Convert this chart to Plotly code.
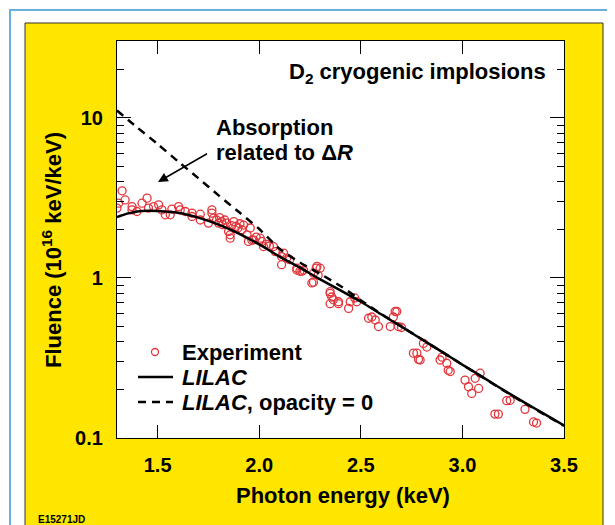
import plotly.graph_objects as go

# ---------------- data ----------------
exp_energy = [1.300, 1.308, 1.325, 1.340, 1.374, 1.374, 1.398, 1.423, 1.448, 1.455,
              1.480, 1.505, 1.521, 1.538, 1.562, 1.570, 1.603, 1.611, 1.636, 1.669,
              1.669, 1.710, 1.710, 1.750, 1.767, 1.767, 1.775, 1.790, 1.800, 1.805,
              1.815, 1.820, 1.830, 1.840, 1.849, 1.857, 1.857, 1.865, 1.875, 1.885,
              1.895, 1.905, 1.915, 1.923, 1.940, 1.947, 1.956, 1.964, 1.972, 1.985,
              2.005, 2.013, 2.021, 2.035, 2.050, 2.070, 2.079, 2.110, 2.110, 2.120,
              2.135, 2.150, 2.185, 2.185, 2.200, 2.210, 2.218, 2.259, 2.267, 2.267,
              2.280, 2.284, 2.290, 2.300, 2.349, 2.349, 2.357, 2.349, 2.365, 2.390,
              2.390, 2.440, 2.448, 2.470, 2.480, 2.538, 2.554, 2.571, 2.587, 2.645,
              2.660, 2.669, 2.677, 2.685, 2.700, 2.759, 2.776, 2.784, 2.792, 2.808,
              2.825, 2.890, 2.900, 2.923, 2.930, 2.940, 3.013, 3.030, 3.046, 3.063,
              3.080, 3.087, 3.160, 3.177, 3.218, 3.235, 3.308, 3.350, 3.365]
exp_fluence = [2.73, 2.93, 3.50, 3.07, 2.79, 2.66, 2.60, 2.93, 3.15, 2.73,
               2.79, 2.86, 2.66, 2.48, 2.48, 2.69, 2.79, 2.66, 2.60, 2.54,
               2.42, 2.50, 2.30, 2.20, 2.66, 2.54, 2.36, 2.30, 2.20, 2.38,
               2.25, 2.15, 2.30, 2.20, 1.95, 1.86, 1.77, 2.12, 2.25, 2.10,
               2.05, 2.18, 2.00, 2.14, 1.86, 1.69, 2.05, 1.72, 1.73, 1.80,
               1.77, 1.69, 1.57, 1.62, 1.58, 1.57, 1.46, 1.36, 1.21, 1.43,
               1.33, 1.30, 1.15, 1.12, 1.10, 1.10, 1.12, 0.93, 1.07, 0.94,
               1.15, 1.18, 1.04, 1.15, 0.80, 0.82, 0.76, 0.69, 0.73, 0.69,
               0.71, 0.645, 0.71, 0.75, 0.71, 0.56, 0.57, 0.546, 0.497, 0.497,
               0.57, 0.617, 0.617, 0.497, 0.49, 0.339, 0.339, 0.31, 0.307, 0.39,
               0.37, 0.307, 0.32, 0.293, 0.265, 0.26, 0.23, 0.209, 0.19, 0.236,
               0.204, 0.254, 0.141, 0.141, 0.171, 0.172, 0.151, 0.126, 0.124]

lilac_energy = [1.30, 1.35, 1.40, 1.45, 1.50, 1.60, 1.70, 1.80, 1.90, 2.00, 2.10, 2.20,
                2.30, 2.40, 2.50, 2.60, 2.70, 2.80, 2.90, 3.00, 3.10, 3.20, 3.30, 3.40, 3.50]
lilac_fluence = [2.40, 2.52, 2.60, 2.63, 2.62, 2.55, 2.38, 2.15, 1.89, 1.62, 1.36, 1.16,
                 0.98, 0.835, 0.71, 0.593, 0.496, 0.414, 0.345, 0.287, 0.240, 0.200, 0.168, 0.142, 0.120]

opac0_energy = [1.30, 1.40, 1.50, 1.60, 1.70, 1.80, 1.90, 2.00, 2.10, 2.20, 2.30, 2.40,
                2.50, 2.60, 2.70, 2.80, 2.90, 3.00, 3.10, 3.20, 3.30, 3.40, 3.50]
opac0_fluence = [11.1, 8.7, 6.85, 5.35, 4.2, 3.28, 2.58, 2.02, 1.52, 1.25, 1.06, 0.89,
                 0.725, 0.596, 0.497, 0.414, 0.345, 0.287, 0.239, 0.199, 0.167, 0.141, 0.119]

x_tickvals = [1.5, 2.0, 2.5, 3.0, 3.5]
x_ticktext = ["1.5", "2.0", "2.5", "3.0", "3.5"]
y_tickvals = [0.1, 1, 10]
y_ticktext = ["0.1", "1", "10"]
y_minor = [0.2, 0.3, 0.4, 0.5, 0.6, 0.7, 0.8, 0.9, 2, 3, 4, 5, 6, 7, 8, 9, 20]

legend_labels = ["Experiment", "<i>LILAC</i>", "<i>LILAC</i>, opacity = 0"]

# ---------------- figure ----------------
FONT = "Liberation Sans"
RED = "#E2363C"
OFF = 8  # page body margin

W, H = 615, 525
# screen-pixel positions of the plot frame
SX0, SX1, SY0, SY1 = 117, 564, 41, 438
L = SX0 - OFF
T = SY0 - OFF
R = W - (SX1 - OFF)
B = H - (SY1 - OFF)
pw, ph = W - L - R, H - T - B


def px(xs):
    return (xs - OFF - L) / pw


def py(ys):
    return (H - B - (ys - OFF)) / ph


fig = go.Figure()
fig.add_trace(go.Scatter(
    x=exp_energy, y=exp_fluence, mode="markers", name=legend_labels[0],
    marker=dict(symbol="circle-open", size=8, color=RED, line=dict(width=1.3, color=RED)),
))
fig.add_trace(go.Scatter(
    x=lilac_energy, y=lilac_fluence, mode="lines", name=legend_labels[1],
    line=dict(color="black", width=2.5, shape="spline", smoothing=0.7),
))
fig.add_trace(go.Scatter(
    x=opac0_energy, y=opac0_fluence, mode="lines", name=legend_labels[2],
    line=dict(color="black", width=2.5, dash="8px,6px", shape="spline", smoothing=0.7),
))

axis_common = dict(
    showline=True, linecolor="black", linewidth=1.2, mirror="allticks",
    ticks="inside", tickcolor="black", tickwidth=1.2,
    showgrid=False, zeroline=False,
    tickfont=dict(family=FONT, size=20, color="black", weight="bold"),
)

fig.update_xaxes(
    range=[1.3, 3.5], tickmode="array", tickvals=x_tickvals, ticktext=x_ticktext,
    ticklen=13, ticklabelstandoff=9, **axis_common,
)
fig.update_yaxes(
    type="log", range=[-1, 1.48], tickmode="array", tickvals=y_tickvals, ticktext=y_ticktext,
    ticklen=14, ticklabelstandoff=9,
    minor=dict(tickvals=y_minor, ticklen=7, ticks="inside", tickcolor="black", tickwidth=1.2),
    **axis_common,
)

shapes = [
    # light blue page frame
    dict(type="rect", xref="paper", yref="paper", x0=px(10), x1=px(720), y0=py(10), y1=py(720),
         line=dict(color="#6AAEDC", width=2), fillcolor="rgba(0,0,0,0)", layer="below"),
    # yellow panel
    dict(type="rect", xref="paper", yref="paper", x0=px(25), x1=px(603), y0=py(23), y1=py(560),
         line=dict(color="#333333", width=1), fillcolor="#FFE600", layer="below"),
    # white plot area
    dict(type="rect", xref="paper", yref="paper", x0=0, x1=1, y0=0, y1=1,
         line=dict(width=0), fillcolor="white", layer="below"),
    # legend symbols
    dict(type="circle", xref="paper", yref="paper",
         x0=px(151.5), x1=px(158.5), y0=py(348.5), y1=py(355.5),
         line=dict(color=RED, width=1.3), fillcolor="rgba(0,0,0,0)"),
    dict(type="line", xref="paper", yref="paper", x0=px(138), x1=px(173), y0=py(377), y1=py(377),
         line=dict(color="black", width=2.5)),
    dict(type="line", xref="paper", yref="paper", x0=px(138), x1=px(173), y0=py(402), y1=py(402),
         line=dict(color="black", width=2.5, dash="8px,6px")),
]

bold = lambda s: dict(family=FONT, size=s, color="black", weight="bold")
TS = 22

annotations = [
    dict(text="D<sub>2</sub> cryogenic implosions", xref="paper", yref="paper",
         x=px(548), y=py(73), xanchor="right", yanchor="middle", showarrow=False, font=bold(TS)),
    dict(text="Absorption", xref="paper", yref="paper",
         x=px(214), y=py(127), xanchor="left", yanchor="middle", showarrow=False, font=bold(TS)),
    dict(text="related to Δ<i>R</i>", xref="paper", yref="paper",
         x=px(214), y=py(152), xanchor="left", yanchor="middle", showarrow=False, font=bold(TS)),
    dict(text=" ", xref="paper", yref="paper", x=px(158), y=py(182),
         ax=52, ay=-30, axref="pixel", ayref="pixel", showarrow=True,
         arrowhead=2, arrowsize=1.3, arrowwidth=1.5, arrowcolor="black", standoff=0),
    dict(text="Photon energy (keV)", xref="paper", yref="paper",
         x=px(343), y=py(496), xanchor="center", yanchor="middle", showarrow=False, font=bold(TS)),
    dict(text="Fluence (10<sup>16</sup> keV/keV)", xref="paper", yref="paper",
         x=px(52), y=py(250), xanchor="center", yanchor="middle", textangle=-90,
         showarrow=False, font=bold(TS)),
    dict(text="E15271JD", xref="paper", yref="paper",
         x=px(36), y=py(519), xanchor="left", yanchor="middle", showarrow=False, font=bold(10)),
]
for lab, ys in zip(legend_labels, [352, 377, 402]):
    annotations.append(dict(text=lab, xref="paper", yref="paper", x=px(180), y=py(ys),
                            xanchor="left", yanchor="middle", showarrow=False, font=bold(TS)))

fig.update_layout(
    width=W, height=H,
    margin=dict(l=L, r=R, t=T, b=B, pad=0),
    paper_bgcolor="white", plot_bgcolor="rgba(0,0,0,0)",
    shapes=shapes, annotations=annotations,
    showlegend=False,
)

fig.write_html("out.html")
